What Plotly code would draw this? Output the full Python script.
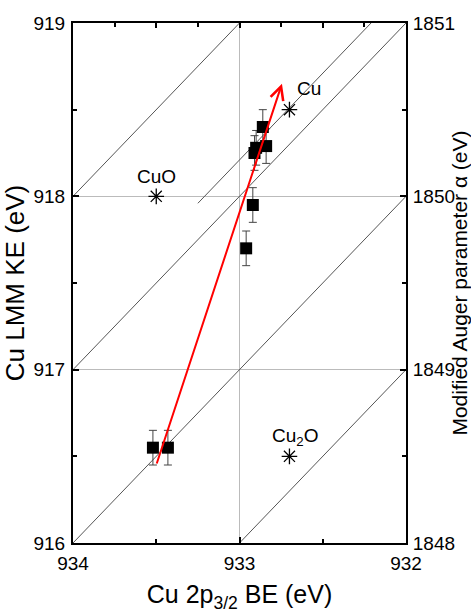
import plotly.graph_objects as go

# --- data ---
be_samples = [932.86, 932.90, 932.84, 932.91, 932.92, 932.96, 933.52, 933.43]
ke_samples = [918.40, 918.28, 918.29, 918.25, 917.95, 917.70, 916.55, 916.55]
ke_err = [0.1, 0.1, 0.1, 0.1, 0.1, 0.1, 0.1, 0.1]

ref_names = ["CuO", "Cu", "Cu<sub>2</sub>O"]
ref_be = [933.5, 932.7, 932.7]
ref_ke = [918.0, 918.5, 916.5]

alpha_lines = [1849, 1850, 1851, 1852]
cu_alpha = 1851.21
cu_line_be_start = 933.25

arrow_start = [933.50, 916.45]
arrow_end = [932.745, 918.65]

BE_MIN, BE_MAX = 932.0, 934.0
KE_MIN, KE_MAX = 916.0, 919.0

FONT = "Liberation Sans, Arial, sans-serif"

fig = go.Figure()

# diagonal Auger-parameter lines
for a in alpha_lines:
    b1 = min(BE_MAX, a - KE_MIN)
    b2 = max(BE_MIN, a - KE_MAX)
    fig.add_trace(go.Scatter(x=[b1, b2], y=[a - b1, a - b2], mode="lines",
                             line=dict(color="#555555", width=1), showlegend=False,
                             hoverinfo="skip"))
b2 = max(BE_MIN, cu_alpha - KE_MAX)
fig.add_trace(go.Scatter(x=[cu_line_be_start, b2], y=[cu_alpha - cu_line_be_start, cu_alpha - b2],
                         mode="lines", line=dict(color="#555555", width=1),
                         showlegend=False, hoverinfo="skip"))

# samples
fig.add_trace(go.Scatter(x=be_samples, y=ke_samples, mode="markers",
                         marker=dict(symbol="square", size=12, color="black"),
                         error_y=dict(type="data", array=ke_err, color="#444444",
                                      thickness=1, width=4),
                         showlegend=False))

# references
fig.add_trace(go.Scatter(x=ref_be, y=ref_ke, mode="markers",
                         marker=dict(symbol="asterisk-open", size=13, color="black",
                                     line=dict(color="black", width=1.3)),
                         showlegend=False))

text_offsets = {"CuO": (0, -20), "Cu": (20, -21), "Cu<sub>2</sub>O": (6, -19)}
for n, bx, ky in zip(ref_names, ref_be, ref_ke):
    dx, dy = text_offsets[n]
    fig.add_annotation(x=bx, y=ky, text=n, showarrow=False, xshift=dx, yshift=-dy,
                       font=dict(family=FONT, size=19, color="black"))

# red arrow
fig.add_annotation(x=arrow_end[0], y=arrow_end[1], ax=arrow_start[0], ay=arrow_start[1],
                   xref="x", yref="y", axref="x", ayref="y", text="",
                   showarrow=True, arrowhead=5, arrowsize=1.3, arrowwidth=2,
                   arrowcolor="#ff0000")

# invisible traces to activate extra axes
fig.add_trace(go.Scatter(x=[933], y=[1849], xaxis="x", yaxis="y2", mode="markers",
                         marker=dict(opacity=0), showlegend=False, hoverinfo="skip"))
fig.add_trace(go.Scatter(x=[933], y=[917], xaxis="x2", yaxis="y", mode="markers",
                         marker=dict(opacity=0), showlegend=False, hoverinfo="skip"))

tickfont = dict(family=FONT, size=19, color="black")

fig.update_layout(
    width=471, height=614,
    margin=dict(l=73, r=65, t=23, b=71),
    plot_bgcolor="white", paper_bgcolor="white",
    xaxis=dict(range=[BE_MAX, BE_MIN], tickvals=[934, 933, 932], ticktext=["934", "933", "932"],
               ticks="inside", ticklen=6, tickwidth=2, tickcolor="black",
               minor=dict(dtick=0.5, tick0=932, ticks="inside", ticklen=4, tickwidth=2,
                          tickcolor="black", showgrid=False),
               showline=True, linecolor="black", linewidth=2, automargin=False,
               showgrid=True, gridcolor="#bbbbbb", gridwidth=1, zeroline=False,
               tickfont=tickfont, ticklabelstandoff=2,
               title=dict(text="Cu 2p<sub>3/2</sub> BE (eV)",
                          font=dict(family=FONT, size=25, color="black"), standoff=13)),
    xaxis2=dict(range=[BE_MAX, BE_MIN], overlaying="x", side="top", anchor="y",
                tickvals=[933.5, 933.0, 932.5], showticklabels=False, automargin=False,
                ticks="inside", ticklen=5, tickwidth=2, tickcolor="black",
                minor=dict(dtick=0.25, tick0=932, ticks="inside", ticklen=4, tickwidth=2,
                           tickcolor="black", showgrid=False),
                showline=True, linecolor="black", linewidth=2, showgrid=False, zeroline=False),
    yaxis=dict(range=[KE_MIN, KE_MAX], tickvals=[916, 917, 918, 919],
               ticks="inside", ticklen=6, tickwidth=2, tickcolor="black",
               minor=dict(dtick=0.5, tick0=916, ticks="inside", ticklen=4, tickwidth=2,
                          tickcolor="black", showgrid=False),
               showline=True, linecolor="black", linewidth=2, automargin=False,
               showgrid=True, gridcolor="#bbbbbb", gridwidth=1, zeroline=False,
               tickfont=tickfont, ticklabelstandoff=2,
               title=dict(text="Cu LMM KE (eV)",
                          font=dict(family=FONT, size=26, color="black"), standoff=2)),
    yaxis2=dict(range=[1848, 1851], overlaying="y", side="right", anchor="x",
                tickvals=[1848, 1849, 1850, 1851], automargin=False,
                ticks="inside", ticklen=6, tickwidth=2, tickcolor="black",
                minor=dict(dtick=0.5, tick0=1848, ticks="inside", ticklen=4, tickwidth=2,
                           tickcolor="black", showgrid=False),
                showline=True, linecolor="black", linewidth=2, showgrid=False, zeroline=False,
                tickfont=tickfont, ticklabelstandoff=1,
                title=dict(text="Modified Auger parameter α (eV)",
                           font=dict(family=FONT, size=21, color="black"), standoff=5)),
)

fig.write_html("out.html")
